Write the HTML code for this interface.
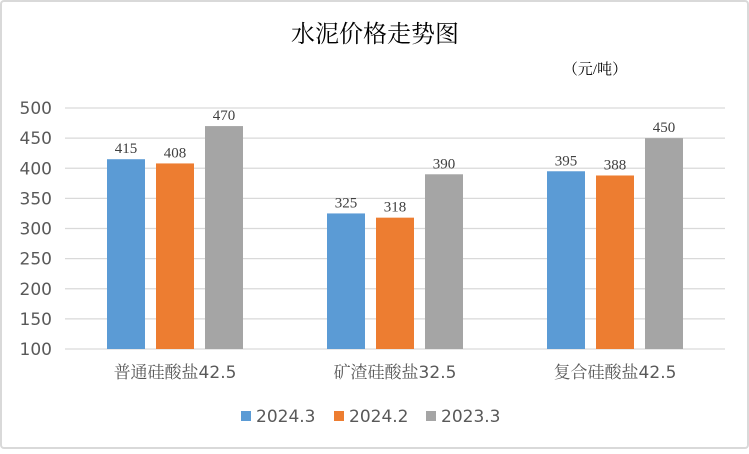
<!DOCTYPE html>
<html><head><meta charset="utf-8"><style>
body{margin:0;background:#fff}
svg text{font-family:"DejaVu Sans","Noto Serif CJK SC",sans-serif}
.serif{font-family:"Liberation Serif","Noto Serif CJK SC","WenQuanYi Zen Hei",serif}
.cat{font-family:"DejaVu Sans","Noto Serif CJK SC",serif}
</style></head><body>
<svg id="chart" width="749" height="449" xmlns="http://www.w3.org/2000/svg">
<rect x="1" y="1" width="747" height="447" rx="3" fill="#fff" stroke="#d9d9d9" stroke-width="2"/>
<text x="375" y="42" text-anchor="middle" font-size="24" class="serif" fill="#000">水泥价格走势图</text>
<text x="595" y="74" text-anchor="middle" font-size="15" class="serif" fill="#000">（元/吨）</text>
<g id="grid"></g><g id="bars"></g><g id="labels"></g>
<g id="legend"></g>
</svg>
<script>
const categories=["普通硅酸盐42.5","矿渣硅酸盐32.5","复合硅酸盐42.5"];
const seriesNames=["2024.3","2024.2","2023.3"];
const s2024_3=[415,325,395];
const s2024_2=[408,318,388];
const s2023_3=[470,390,450];
const yTicks=[100,150,200,250,300,350,400,450,500];
const colors=["#5b9bd5","#ed7d31","#a5a5a5"];
const series=[s2024_3,s2024_2,s2023_3];
const NS="http://www.w3.org/2000/svg";
const x0=65,x1=725,yTop=108,yBot=349,ymin=100,ymax=500;
const y=v=>yBot-(v-ymin)/(ymax-ymin)*(yBot-yTop);
const bw=(x1-x0)/categories.length;
function mk(t,a,p){const e=document.createElementNS(NS,t);for(const k in a)e.setAttribute(k,a[k]);p.appendChild(e);return e;}
const grid=document.getElementById('grid'),bars=document.getElementById('bars'),labels=document.getElementById('labels');
yTicks.forEach(v=>{
 const l=mk('line',{x1:x0,x2:x1,y1:y(v),y2:y(v),stroke:'#d9d9d9','stroke-width':1.2},grid);
 
 
 const t=mk('text',{x:52,y:y(v)+6,'text-anchor':'end','font-size':17,fill:'#595959'},grid);
 t.textContent=v;
 
 
});
categories.forEach((c,i)=>{
 const cx=x0+bw*(i+0.5);
 series.forEach((s,j)=>{
  const bx=cx-19+(j-1)*49;
  const r=mk('rect',{x:bx,y:y(s[i]),width:38,height:yBot-y(s[i]),fill:colors[j]},bars);
  
  
  const t=mk('text',{x:bx+19,y:y(s[i])-6,'text-anchor':'middle','font-size':15,fill:'#404040','class':'serif'},labels);
  t.textContent=s[i];
  
  
 });
 const t=mk('text',{x:cx,y:378,'text-anchor':'middle','font-size':17,fill:'#595959','class':'cat'},labels);
 t.textContent=c;
 
 
});
const lg=document.getElementById('legend');
const lx=[241,334,426];
seriesNames.forEach((n,j)=>{
 const r=mk('rect',{x:lx[j],y:411,width:10,height:10,fill:colors[j]},lg);
 
 
 const t=mk('text',{x:lx[j]+15,y:422,'font-size':17,fill:'#595959'},lg);
 t.textContent=n;
 
 
});
</script>
</body></html>
